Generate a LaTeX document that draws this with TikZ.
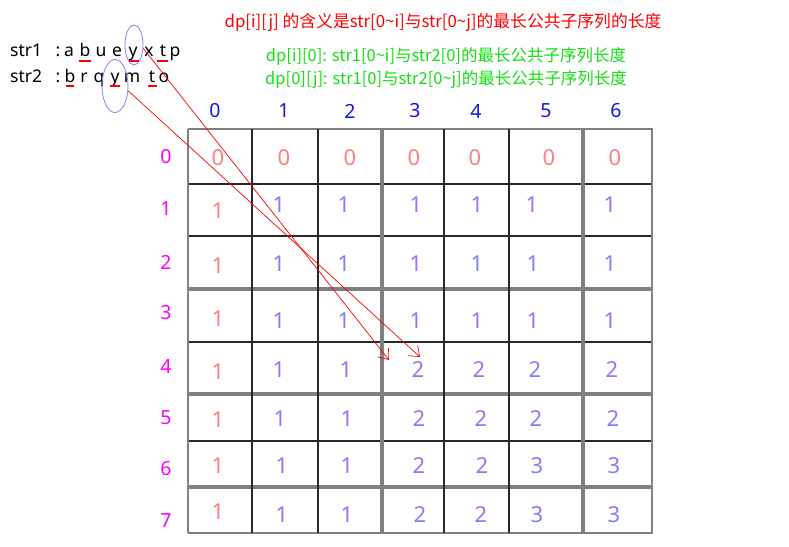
\documentclass[tikz,border=0pt]{standalone}
\usepackage{fontspec}
\setmainfont{Noto Sans}
\newfontfamily\cjk{Noto Sans CJK SC}
\usetikzlibrary{arrows.meta,shapes.geometric}
\definecolor{salmon}{RGB}{255,128,128}
\definecolor{cellblue}{RGB}{128,128,255}
\definecolor{headblue}{RGB}{20,20,235}
\definecolor{rowmag}{RGB}{255,0,255}
\definecolor{titlered}{RGB}{255,0,0}
\definecolor{notegreen}{RGB}{20,225,20}
\definecolor{ringblue}{RGB}{130,130,255}
\definecolor{gridgray}{RGB}{128,128,128}
\definecolor{griddark}{RGB}{40,40,40}
\tikzset{
  strtext/.style={inner sep=0pt, anchor=base, font=\fontsize{17.5}{20}\selectfont},
  celltext/.style={inner sep=0pt, font=\fontsize{22}{26}\selectfont},
  zerocell/.style={celltext, text=salmon},
  onecell/.style={celltext, text=cellblue},
  headtext/.style={inner sep=0pt, font=\fontsize{19.5}{22}\selectfont, text=headblue},
  rowtext/.style={inner sep=0pt, font=\fontsize{19.5}{22}\selectfont, text=rowmag},
  notetext/.style={inner sep=0pt, font=\cjk\fontsize{16.5}{19}\selectfont},
  thickline/.style={draw=gridgray, line width=3.5pt},
  edgeline/.style={draw=gridgray, line width=2.5pt},
  darkline/.style={draw=griddark, line width=2pt},
  ring/.style={draw=ringblue, line width=0.8pt, ellipse, inner sep=0pt},
  mark under/.style={draw=titlered, line width=2pt},
  pointer/.style={draw=titlered, line width=0.7pt, -{Straight Barb[length=9pt,width=14pt]}}
}
\begin{document}
\begin{tikzpicture}[x=1pt,y=-1pt]
\useasboundingbox[fill=white] (0,0) rectangle (789,546);

% titles
\node[notetext, text=titlered, font=\cjk\fontsize{16.8}{20}\selectfont] (title) at (443,22) {dp[i][j] 的含义是str[0\textasciitilde i]与str[0\textasciitilde j]的最长公共子序列的长度};
\node[notetext, text=notegreen] (noteA) at (446,56) {dp[i][0]: str1[0\textasciitilde i]与str2[0]的最长公共子序列长度};
\node[notetext, text=notegreen] (noteB) at (446,80) {dp[0][j]: str1[0]与str2[0\textasciitilde j]的最长公共子序列长度};

% strings
\node[strtext, anchor=base west] (s1) at (10,56) {str1};
\node[strtext, anchor=base west] (s2) at (10,82) {str2};
\foreach \x/\c [count=\i] in {58/:,69/a,85/b,101/u,117/e,133/y,149/x,163/t,175/p}
  \node[strtext] (sa\i) at (\x,56) {\c};
\foreach \x/\c [count=\i] in {58/:,70/b,84/r,99/q,115/y,132/m,152/t,164/o}
  \node[strtext] (sb\i) at (\x,82) {\c};

% underline marks
\foreach \a/\b in {79/91,129/139,157/168}
  \draw[mark under] (\a,61) -- (\b,61);
\foreach \a/\b in {66/74,110/120,148/157}
  \draw[mark under] (\a,86) -- (\b,86);

% rings
\node[ring, minimum width=18pt, minimum height=40pt] (ringA) at (134,45) {};
\node[ring, minimum width=26pt, minimum height=53pt] (ringB) at (115,86) {};

% grid
\foreach \y/\s in {129/edgeline,184/darkline,236/darkline,289/thickline,342/darkline,394/thickline,441/darkline,487/thickline,533/edgeline}
  \draw[\s] (188,\y) -- (653,\y);
\foreach \x/\s in {188/edgeline,252/darkline,318/darkline,382/thickline,444/darkline,509/darkline,583/thickline,652/edgeline}
  \draw[\s] (\x,129) -- (\x,533);

% column headers
\foreach \x [count=\i from 0] in {215,284,350,415,476,546,616}
  \node[headtext] (h\i) at (\x,111) {\i};
% row labels
\foreach \y [count=\i from 0] in {157,209,262,313,366,418,469,521}
  \node[rowtext] (r\i) at (166,\y) {\i};

% row 0
\foreach \x [count=\i from 0] in {218,284,350,414,475,549,615}
  \node[zerocell] (c0-\i) at (\x,158) {0};
% first column
\foreach \y [count=\i] in {211,266,319,372,420,466,512}
  \node[zerocell] (c\i-0) at (218,\y) {1};
% rows
\foreach \x/\v [count=\i] in {279/1,344/1,416/1,477/1,532/1,610/1}
  \node[onecell] (c1-\i) at (\x,205) {\v};
\foreach \x/\v [count=\i] in {279/1,344/1,416/1,477/1,533/1,610/1}
  \node[onecell] (c2-\i) at (\x,264) {\v};
\foreach \x/\v [count=\i] in {279/1,344/1,416/1,477/1,533/1,610/1}
  \node[onecell] (c3-\i) at (\x,321) {\v};
\foreach \x/\v [count=\i] in {279/1,346/1,418/2,479/2,535/2,612/2}
  \node[onecell] (c4-\i) at (\x,370) {\v};
\foreach \x/\v [count=\i] in {280/1,347/1,419/2,481/2,536/2,613/2}
  \node[onecell] (c5-\i) at (\x,419) {\v};
\foreach \x/\v [count=\i] in {282/1,347/1,419/2,482/2,537/3,614/3}
  \node[onecell] (c6-\i) at (\x,466) {\v};
\foreach \x/\v [count=\i] in {282/1,347/1,420/2,481/2,537/3,614/3}
  \node[onecell] (c7-\i) at (\x,515) {\v};

% pointers
\coordinate (tipA) at (389,360);
\coordinate (tipB) at (420,357);
\draw[pointer] (ringA.-20) -- (tipA);
\draw[pointer] (ringB.-20) -- (tipB);
\end{tikzpicture}
\end{document}
